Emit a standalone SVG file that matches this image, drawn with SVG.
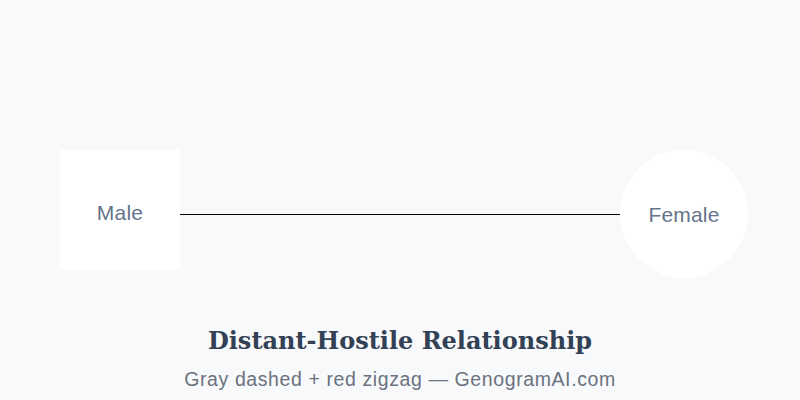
<svg xmlns="http://www.w3.org/2000/svg" width="800" height="400" viewBox="0 0 800 400">
<style>
.lbl{font-family:"Liberation Sans",Arial,sans-serif;font-size:21px;fill:#64748b;text-anchor:middle;letter-spacing:0.2px}
.node{fill:#ffffff}
.title{font-family:"DejaVu Serif","Liberation Serif",serif;font-weight:bold;font-size:24px;fill:#334155;text-anchor:middle}
.sub{font-family:"Liberation Sans",Arial,sans-serif;font-size:19.5px;fill:#6b7280;text-anchor:middle;letter-spacing:0.6px}
</style>
<rect width="800" height="400" fill="#f8f9fb"/>
<g id="connectors">
<line x1="180" y1="214.5" x2="620" y2="214.5" stroke="#000" stroke-width="1"/>
</g>
<g id="male">
<rect class="node" x="60" y="150" width="120" height="120"/>
<text class="lbl" x="120" y="219.5">Male</text>
</g>
<g id="female">
<circle class="node" cx="684" cy="214" r="64"/>
<text class="lbl" x="684" y="221.5">Female</text>
</g>
<text class="title" x="400" y="349">Distant-Hostile Relationship</text>
<text class="sub" x="400" y="386">Gray dashed + red zigzag — GenogramAI.com</text>
</svg>
